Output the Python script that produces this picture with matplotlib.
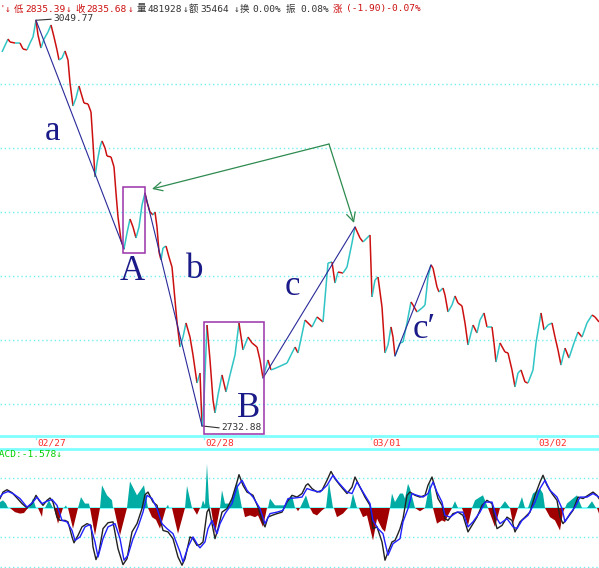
import numpy as np
import matplotlib.pyplot as plt
from matplotlib.collections import LineCollection
from matplotlib.patches import Rectangle

# intraday closes (t = bar position along the time axis)
t = [2, 8, 10, 15, 20, 23, 27, 30, 33, 36, 38, 41, 44, 48, 51, 54, 57, 59, 62, 65,
     68, 70, 73, 76, 79, 81, 84, 88, 91, 93, 95, 97, 100, 102, 105, 107, 111, 114, 116, 118,
     121, 124, 127, 130, 133, 136, 139, 142, 145, 147, 150, 153, 155, 157, 159, 161, 163, 166, 169, 172,
     175, 177, 180, 183, 186, 190, 193, 197, 200, 202, 204, 207, 210, 213, 215, 218, 222, 226, 230, 235,
     239, 243, 248, 252, 257, 260, 263, 268, 271, 276, 287, 291, 295, 298, 305, 312, 317, 323, 328, 332,
     335, 338, 343, 347, 352, 355, 360, 363, 370, 372, 375, 378, 382, 385, 388, 391, 393, 395, 400, 403,
     407, 411, 413, 417, 422, 425, 428, 431, 433, 437, 439, 443, 445, 448, 452, 455, 458, 462, 465, 468,
     473, 477, 480, 484, 487, 492, 494, 496, 500, 505, 508, 512, 515, 518, 521, 525, 528, 533, 536, 541,
     544, 548, 552, 555, 558, 561, 565, 569, 574, 578, 582, 587, 592, 595, 599]
close = [3025.0, 3035.1, 3032.8, 3032.0, 3032.0, 3027.3, 3026.6, 3032.0, 3036.7, 3049.77,
         3038.3, 3028.1, 3035.1, 3040.6, 3046.1, 3036.7, 3026.6, 3018.7, 3020.3, 3025.8,
         3018.7, 3000.8, 2982.8, 2989.1, 2998.4, 2993.0, 2985.1, 2984.4, 2978.1, 2953.9,
         2927.3, 2938.3, 2950.8, 2955.5, 2950.0, 2943.7, 2943.0, 2935.2, 2914.8, 2896.1,
         2878.1, 2871.1, 2883.6, 2894.5, 2888.3, 2879.7, 2888.3, 2905.5, 2914.8, 2907.8,
         2900.0, 2897.7, 2900.0, 2888.3, 2868.7, 2862.5, 2871.9, 2873.4, 2864.8, 2857.0,
         2831.2, 2814.0, 2794.5, 2802.3, 2813.3, 2802.3, 2788.3, 2766.4, 2774.2, 2732.88,
         2753.1, 2811.7, 2784.4, 2753.1, 2743.0, 2757.0, 2772.7, 2759.4, 2772.7, 2788.3,
         2813.3, 2792.2, 2802.3, 2797.7, 2794.5, 2784.4, 2770.3, 2784.4, 2776.6, 2778.1,
         2782.0, 2788.3, 2794.5, 2789.9, 2815.6, 2810.2, 2818.0, 2814.1, 2860.1, 2860.9,
         2844.5, 2853.1, 2852.3, 2857.0, 2875.8, 2888.3, 2879.7, 2876.6, 2882.0, 2833.6,
         2846.9, 2849.2, 2825.8, 2789.9, 2796.1, 2810.2, 2802.3, 2787.5, 2797.7, 2798.4,
         2813.3, 2829.7, 2827.3, 2821.9, 2825.0, 2827.3, 2849.2, 2858.6, 2856.2, 2841.4,
         2837.5, 2840.6, 2835.1, 2821.9, 2827.3, 2834.4, 2828.9, 2826.6, 2813.3, 2796.1,
         2811.7, 2805.5, 2815.6, 2821.1, 2810.2, 2810.2, 2797.7, 2782.8, 2797.7, 2790.6,
         2789.9, 2776.6, 2763.3, 2774.2, 2776.6, 2767.2, 2766.4, 2776.6, 2797.7, 2821.1,
         2807.8, 2811.7, 2813.3, 2802.3, 2792.2, 2780.4, 2793.7, 2785.9, 2797.7, 2806.2,
         2802.3, 2813.3, 2819.5, 2818.0, 2814.1]

day_ticks = [36, 204, 371, 537]
day_labels = ['02/27', '02/28', '03/01', '03/02']

# wave legs drawn between pivot bars
legs = [(36, 124), (145, 202), (263, 355), (395, 431)]
wave_labels = [('a', 45, 2956.2), ('A', 120, 2846.9), ('b', 186, 2848.4),
               ('B', 237, 2739.8), ('c', 285, 2835.2), ('c\u2032', 413, 2801.6)]

# MACD panel
dif_t = [0, 3, 7, 12, 17, 22, 27, 32, 36, 39, 43, 47, 50, 53, 57, 60, 65, 68, 72, 74,
         78, 82, 87, 91, 93, 96, 99, 103, 108, 113, 118, 123, 127, 132, 137, 142, 145, 148, 153, 157,
         160, 163, 168, 173, 178, 182, 185, 190, 193, 197, 200, 203, 207, 209, 213, 215, 218, 222, 227, 232,
         237, 239, 243, 247, 250, 253, 258, 262, 265, 268, 272, 277, 282, 287, 292, 297, 302, 306, 308, 312,
         317, 322, 327, 331, 335, 340, 347, 352, 355, 360, 365, 370, 373, 377, 382, 385, 388, 392, 395, 398,
         400, 403, 407, 410, 415, 420, 425, 428, 432, 435, 438, 442, 445, 448, 453, 458, 463, 468, 472, 477,
         482, 487, 492, 495, 497, 502, 507, 512, 515, 520, 525, 530, 535, 540, 543, 547, 552, 557, 560, 563,
         568, 573, 578, 583, 588, 593, 597, 599]
dif = [3.2, 5.4, 6.2, 5.2, 3.4, 1.5, 0.0, 1.5, 4.3, 2.6, 0.9, 2.6, 3.4, 2.0, -3.1, -4.2, -4.2, -4.7, -9.8, -11.8,
       -9.3, -6.4, -5.3, -5.9, -13.2, -17.5, -14.9, -7.0, -5.0, -4.7, -13.8, -19.2, -17.2, -8.1, -5.3, -0.2, 4.5, 5.4, 2.0, 0.9,
       -3.6, -7.6, -8.1, -10.4, -16.6, -19.4, -17.2, -9.8, -10.4, -12.7, -12.4, -11.5, -1.4, -0.2, -7.0, -10.4, -7.0, -1.4, -0.2, 3.2,
       8.8, 11.3, 7.7, 5.4, 4.9, 4.3, 0.3, -4.2, -6.4, -3.1, -2.5, -1.9, -1.4, 2.0, 4.3, 3.7, 4.9, 7.7, 8.2, 6.6,
       5.4, 6.0, 9.4, 12.4, 9.9, 7.7, 4.9, 7.1, 10.5, 7.1, 3.7, 0.9, -7.0, -6.4, -11.5, -17.7, -14.9, -11.5, -11.0, -8.7,
       -7.0, -3.6, 4.3, 5.4, 4.3, 3.7, 4.3, 7.7, 10.5, 7.1, 3.2, 0.9, -3.6, -4.2, -1.9, -1.4, -2.5, -8.1, -5.9, -3.1,
       0.9, 2.6, 1.5, -4.2, -7.0, -5.9, -3.1, -4.2, -8.1, -4.7, -3.1, -1.4, 4.3, 8.8, 11.1, 7.7, 4.9, 2.6, -3.1, -5.3,
       -3.1, -0.8, 3.7, 3.2, 4.3, 5.4, 4.3, 3.2]
dea_t = [0, 3, 8, 13, 20, 27, 33, 37, 42, 47, 52, 57, 62, 67, 72, 75, 80, 85, 90, 95,
         98, 103, 108, 115, 120, 124, 128, 133, 138, 143, 147, 152, 157, 162, 167, 173, 180, 183, 188, 193,
         198, 200, 205, 208, 212, 217, 220, 225, 232, 237, 242, 247, 253, 260, 265, 270, 277, 283, 288, 295,
         302, 307, 312, 320, 327, 333, 338, 347, 352, 357, 363, 370, 373, 378, 383, 388, 393, 400, 403, 408,
         412, 417, 423, 428, 433, 437, 442, 445, 450, 457, 463, 468, 473, 480, 485, 492, 497, 500, 507, 513,
         517, 522, 528, 535, 540, 545, 550, 557, 562, 565, 570, 575, 580, 587, 593, 599]
dea = [3.7, 4.9, 5.6, 4.9, 3.2, 0.3, 2.0, 3.7, 1.5, 2.3, 2.9, 0.9, -4.2, -4.7, -7.6, -11.0, -9.8, -6.4, -5.6, -11.5,
       -16.6, -10.4, -6.4, -5.3, -10.4, -17.7, -16.0, -10.4, -6.4, -1.4, 4.3, 3.2, -0.2, -5.3, -7.0, -8.7, -14.9, -18.3, -13.2, -9.8,
       -12.7, -13.5, -11.5, -7.0, -4.2, -8.7, -5.3, -1.9, 1.5, 7.1, 9.4, 6.0, 3.7, -0.2, -5.3, -1.9, -1.4, -0.8, 3.2, 3.4,
       3.7, 6.6, 6.0, 5.4, 7.7, 11.1, 8.8, 5.4, 4.9, 8.8, 5.4, 1.5, -4.2, -7.0, -8.7, -16.0, -12.1, -10.4, -4.7, -0.2,
       4.9, 4.3, 3.7, 4.9, 8.8, 5.4, 2.0, -2.5, -3.1, -1.4, -1.4, -6.4, -4.7, -1.4, 2.0, 2.0, -3.6, -5.3, -3.6, -6.4,
       -7.0, -4.2, -2.5, 2.0, 6.6, 9.4, 6.0, 3.7, -0.2, -4.7, -1.9, 0.3, 3.7, 3.7, 4.9, 3.7]
hist_t = [0, 3, 6, 8, 10, 15, 20, 24, 28, 29, 33, 36, 38, 42, 43, 45, 49, 53, 54, 58,
          63, 64, 66, 67, 68, 73, 78, 78, 81, 85, 89, 90, 90, 95, 100, 100, 102, 107, 112, 113,
          114, 120, 127, 127, 130, 137, 144, 148, 148, 152, 156, 160, 166, 166, 168, 169, 172, 178, 185, 185,
          187, 192, 193, 197, 200, 201, 203, 205, 207, 209, 210, 211, 215, 220, 220, 222, 225, 230, 237, 242,
          243, 245, 250, 255, 258, 263, 267, 268, 270, 275, 285, 292, 295, 296, 298, 300, 300, 306, 310, 310,
          313, 317, 322, 325, 326, 329, 333, 334, 337, 343, 348, 350, 353, 357, 359, 363, 367, 373, 377, 382,
          385, 390, 390, 392, 395, 400, 403, 405, 408, 410, 415, 415, 420, 425, 425, 430, 433, 433, 437, 442,
          445, 448, 452, 452, 455, 458, 462, 468, 472, 472, 475, 480, 483, 488, 488, 495, 500, 500, 505, 510,
          510, 513, 518, 518, 522, 525, 528, 533, 540, 543, 545, 545, 550, 555, 560, 563, 565, 565, 567, 573,
          577, 582, 587, 592, 596, 597, 599]
hist = [2.0, 2.6, 1.5, 0, 0, -1.4, -1.9, -1.7, 0, 0, 3.2, 0, 0, -3.0, 0, 0, 2.6, 0, 0, -5.3,
        0, 0, 0.9, 0, 0, -7.0, 0, 0, 3.7, 1.5, 1.5, 0, 0, -9.3, 0, 0, 7.7, 4.3, 2.6, 0,
        0, -9.3, 0, 0, 9.0, 4.3, 7.7, 0, 0, -3.1, -4.0, -7.0, 0, 0, 1.1, 0, 0, -8.7, 0, 0,
        7.5, 0, 0, -2.3, 0, 0, 2.6, 1.0, 15.0, 2.0, 0, 0, -8.7, 0, 0, 6.0, 1.5, 1.5, 8.8, 0,
        0, -3.1, -2.5, -3.1, -2.5, -6.4, 0, 0, 3.2, 0.9, 0.9, 4.3, 0, 0, -1.1, 0, 0, 4.3, 0, 0,
        -1.9, -2.5, -0.8, 0, 0, 8.8, 0, 0, -3.1, -1.9, 0, 0, 4.9, 0, 0, -3.1, -2.5, -11.0, -3.6, -7.0,
        -8.1, 0, 0, 4.9, 2.0, 4.9, 4.9, 3.2, 8.2, 6.6, 0, 0, -1.1, 0, 0, 8.8, 0, 0, -5.3, -4.2,
        -4.7, -2.5, 0, 0, 2.3, 0, 0, -5.9, 0, 0, 2.6, 3.7, 4.3, 0, 0, -6.4, 0, 0, 2.3, 0,
        0, -5.3, 0, 0, 3.7, 0, 0, 4.9, 6.6, 4.9, 0, 0, -3.1, -4.2, -7.6, -1.4, 0, 0, 1.5, 3.2,
        4.3, 0, 0, 2.3, 0, 0, -1.9]

RED = '#cc1010'
CYAN = '#30c4c4'
GRID = '#70f0f0'
NAVY = '#1a1a88'

plt.rcParams['font.family'] = ['DejaVu Sans Mono', 'Noto Sans CJK SC']

fig = plt.figure(figsize=(5.99, 5.68), dpi=100)
W, H = 599.0, 568.0

# ---- price panel ----
ax = fig.add_axes([0, 132 / H, 1, 436 / H])
ax.set_xlim(0, 599)
ax.set_ylim(2725.0, 3065.6)
ax.axis('off')
for lvl in [3000, 2950, 2900, 2850, 2800, 2750]:
    ax.axhline(lvl, color=GRID, lw=1, ls=(0, (1, 2)), zorder=0)

tt = np.array(t, dtype=float)
cc = np.array(close)
segs = np.stack([np.column_stack([tt[:-1], cc[:-1]]), np.column_stack([tt[1:], cc[1:]])], axis=1)
cols = [CYAN if d >= 0 else RED for d in np.diff(cc)]
ax.add_collection(LineCollection(segs, colors=cols, linewidths=1.1, zorder=3))

for t0, t1 in legs:
    ax.plot([t0, t1], [cc[t.index(t0)], cc[t.index(t1)]], color='#2a2a9a', lw=0.8, zorder=4)

for txt, x, y in wave_labels:
    ax.text(x, y, txt, color=NAVY, fontsize=25, family=['Liberation Serif', 'DejaVu Serif'],
            ha='left', va='baseline', zorder=5)

# boxes around A and B
ax.add_patch(Rectangle((123, 2867.9), 22, 51.6, fill=False, ec='#9933aa', lw=1.1, zorder=5))
ax.add_patch(Rectangle((204, 2726.6), 60, 87.5, fill=False, ec='#9933aa', lw=1.1, zorder=5))

# green arrows
corner = (329, 2953.1)
for tip in [(152, 2918.0), (354, 2891.4)]:
    ax.annotate('', xy=tip, xytext=corner,
                arrowprops=dict(arrowstyle='->', color='#2e8b50', lw=0.9, mutation_scale=16,
                                shrinkA=0, shrinkB=0), zorder=6)

# high / low marks
hi = max(close)
lo = min(close)
ax.plot([t[close.index(hi)], 51], [hi, hi + 0.8], color='#333333', lw=0.8)
ax.text(53, hi + 1.0, f'{hi:.2f}', color='#333333', fontsize=6.8, va='center', ha='left')
ax.plot([t[close.index(lo)], 219], [lo, lo - 1.5], color='#333333', lw=0.8)
ax.text(221, lo - 1.2, f'{lo:.2f}', color='#333333', fontsize=6.8, va='center', ha='left')

# ---- date strip ----
ds = fig.add_axes([0, 119 / H, 1, 13 / H])
ds.set_xlim(0, 599)
ds.set_ylim(0, 1)
ds.set_xticks([])
ds.set_yticks([])
for s in ['left', 'right']:
    ds.spines[s].set_visible(False)
for s in ['top', 'bottom']:
    ds.spines[s].set_color('#80ffff')
    ds.spines[s].set_linewidth(2)
for x, lab in zip(day_ticks, day_labels):
    ds.plot([x, x], [1, 0.75], color='#80ffff', lw=1)
    ds.text(x + 1, 0.45, lab, color='#ff2a2a', fontsize=6.8, ha='left', va='center')

# ---- MACD panel ----
mx = fig.add_axes([0, 0, 1, 119 / H])
mx.set_xlim(0, 599)
mx.set_ylim(-20.34, 20.0)
mx.axis('off')
for lvl in [10, -10, -20]:
    mx.axhline(lvl, color=GRID, lw=1, ls=(0, (1, 2)), zorder=0)
mx.axhline(0, color='#80ffff', lw=1.5, zorder=1)
ht = np.array(hist_t, dtype=float)
hv = np.array(hist)
mx.fill_between(ht, 0, hv, where=hv >= 0, color='#00aca4', lw=0, zorder=2)
mx.fill_between(ht, 0, hv, where=hv <= 0, color='#a00000', lw=0, zorder=2)
mx.plot(dif_t, dif, color='#222222', lw=1.0, zorder=3)
mx.plot(dea_t, dea, color='#2020ff', lw=1.0, zorder=3)
mx.text(-6, 18.0, 'MACD:-1.578\u2193', color='#00d000', fontsize=6.8, ha='left', va='center')

# ---- header ----
header = [(0, "'", RED), (5, '\u2193', RED), (14, '低', RED), (25, '2835.39', RED),
          (66, '\u2193', RED), (75, '收', RED), (86, '2835.68', RED), (128, '\u2193', RED),
          (137, '量', '#333333'), (148, '481928', '#333333'), (183, '\u2193', '#333333'),
          (189, '额', '#333333'), (200, '35464', '#333333'), (234, '\u2193', '#333333'),
          (240, '换', '#333333'), (252, '0.00%', '#333333'), (286, '振', '#333333'),
          (300, '0.08%', '#333333'), (333, '涨', RED), (346, '(-1.90)-0.07%', RED)]
for x, s, c in header:
    fig.text(x / W, 1 - 9 / H, s, color=c, fontsize=6.8, ha='left', va='center')

fig.savefig('out.png', dpi=100)
